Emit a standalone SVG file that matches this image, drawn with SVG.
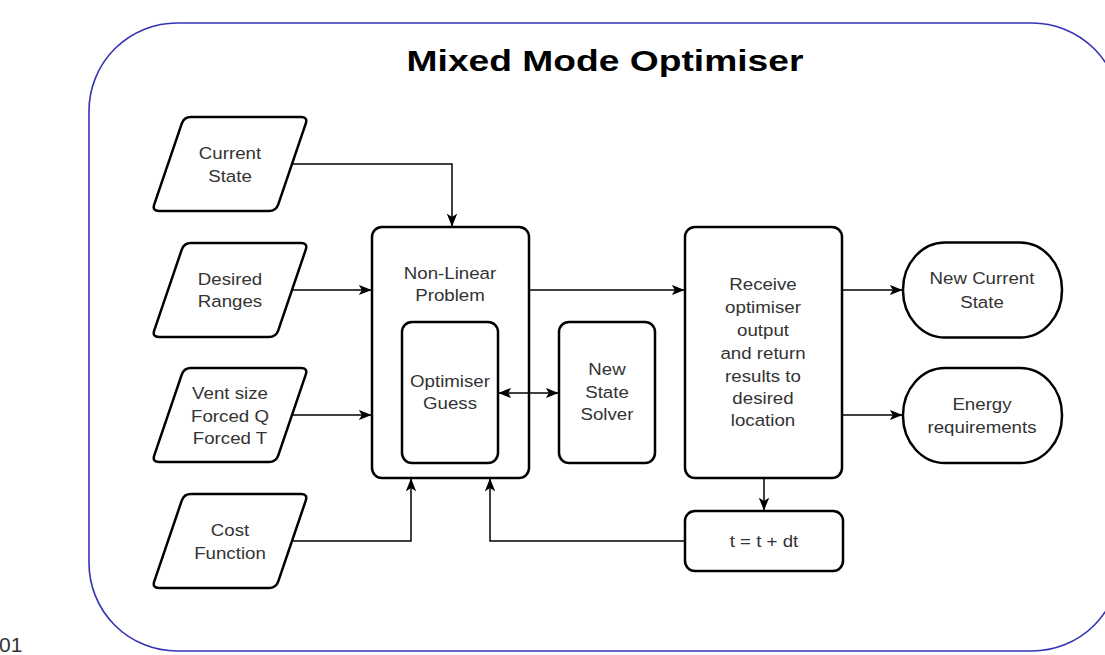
<svg xmlns="http://www.w3.org/2000/svg" width="1105" height="655" viewBox="0 0 1105 655">
<style>
.node{fill:#fff;stroke:#000;stroke-width:2.5}
.lbl{font-family:"Liberation Sans",Arial,sans-serif;font-size:17px;fill:#333;text-anchor:middle}
.title{font-family:"Liberation Sans",Arial,sans-serif;font-size:30px;font-weight:bold;fill:#000;text-anchor:middle}
.conn{fill:none;stroke:#000;stroke-width:1.5}
</style>
<defs>
<path id="para" d="M39,0 L149,0 Q156,0 153.74,6.63 L126.26,87.37 Q124,94 117,94 L7,94 Q0,94 2.26,87.37 L29.74,6.63 Q32,0 39,0 Z"/>
<marker id="arr" viewBox="0 0 10 10" refX="9.5" refY="5" markerWidth="13" markerHeight="13" orient="auto-start-reverse" markerUnits="userSpaceOnUse">
<path d="M0,1 L10,5 L0,9 L2.5,5 Z" fill="#000"/>
</marker>
</defs>
<rect x="0" y="0" width="1105" height="655" fill="#fff"/>
<g id="container">
<rect x="89" y="23" width="1031" height="628" rx="88" ry="88" fill="none" stroke="#3333b3" stroke-width="1.6"/>
<g transform="translate(605 0) scale(1.24 1)"><text class="title" x="0" y="71">Mixed Mode Optimiser</text></g>
</g>
<text x="-1" y="652" font-family="'Liberation Sans',Arial,sans-serif" font-size="21" fill="#333">01</text>

<g id="current-state">
<use href="#para" class="node" transform="translate(152 117)"/>
<g transform="translate(230 0) scale(1.1 1)"><text class="lbl" x="0" y="159">Current</text><text class="lbl" x="0" y="182">State</text></g>
</g>
<g id="desired-ranges">
<use href="#para" class="node" transform="translate(152 243)"/>
<g transform="translate(230 0) scale(1.1 1)"><text class="lbl" x="0" y="285">Desired</text><text class="lbl" x="0" y="307">Ranges</text></g>
</g>
<g id="vent-size">
<use href="#para" class="node" transform="translate(152 368)"/>
<g transform="translate(230 0) scale(1.1 1)"><text class="lbl" x="0" y="399">Vent size</text><text class="lbl" x="0" y="422">Forced Q</text><text class="lbl" x="0" y="444">Forced T</text></g>
</g>
<g id="cost-function">
<use href="#para" class="node" transform="translate(152 494)"/>
<g transform="translate(230 0) scale(1.1 1)"><text class="lbl" x="0" y="536">Cost</text><text class="lbl" x="0" y="559">Function</text></g>
</g>

<g id="non-linear-problem">
<rect class="node" x="372" y="227" width="157" height="251" rx="10"/>
<g transform="translate(450 0) scale(1.1 1)"><text class="lbl" x="0" y="279">Non-Linear</text><text class="lbl" x="0" y="301">Problem</text></g>
</g>
<g id="optimiser-guess">
<rect class="node" x="402" y="322" width="96" height="141" rx="10"/>
<g transform="translate(450 0) scale(1.1 1)"><text class="lbl" x="0" y="387">Optimiser</text><text class="lbl" x="0" y="409">Guess</text></g>
</g>
<g id="new-state-solver">
<rect class="node" x="559" y="322" width="96" height="141" rx="10"/>
<g transform="translate(607 0) scale(1.1 1)"><text class="lbl" x="0" y="375">New</text><text class="lbl" x="0" y="398">State</text><text class="lbl" x="0" y="420">Solver</text></g>
</g>
<g id="receive">
<rect class="node" x="685" y="227" width="157" height="251" rx="10"/>
<g transform="translate(763 0) scale(1.1 1)">
<text class="lbl" x="0" y="290">Receive</text>
<text class="lbl" x="0" y="313">optimiser</text>
<text class="lbl" x="0" y="336">output</text>
<text class="lbl" x="0" y="359">and return</text>
<text class="lbl" x="0" y="382">results to</text>
<text class="lbl" x="0" y="404">desired</text>
<text class="lbl" x="0" y="426">location</text>
</g>
</g>
<g id="new-current-state">
<rect class="node" x="903" y="242.5" width="159" height="95" rx="42" ry="47"/>
<g transform="translate(982 0) scale(1.1 1)"><text class="lbl" x="0" y="284">New Current</text><text class="lbl" x="0" y="308">State</text></g>
</g>
<g id="energy-requirements">
<rect class="node" x="903" y="368" width="159" height="95" rx="42" ry="47"/>
<g transform="translate(982 0) scale(1.1 1)"><text class="lbl" x="0" y="410">Energy</text><text class="lbl" x="0" y="433">requirements</text></g>
</g>
<g id="time-step">
<rect class="node" x="685" y="511" width="158" height="60" rx="10"/>
<g transform="translate(764 0) scale(1.1 1)"><text class="lbl" x="0" y="547">t = t + dt</text></g>
</g>

<g id="connectors">
<path class="conn" d="M292,164 H452 V226" marker-end="url(#arr)"/>
<path class="conn" d="M292,290 H371" marker-end="url(#arr)"/>
<path class="conn" d="M292,415 H371" marker-end="url(#arr)"/>
<path class="conn" d="M292,541 H411 V479" marker-end="url(#arr)"/>
<path class="conn" d="M530,290 H684" marker-end="url(#arr)"/>
<path class="conn" d="M499,393 H558" marker-start="url(#arr)" marker-end="url(#arr)"/>
<path class="conn" d="M843,290 H902" marker-end="url(#arr)"/>
<path class="conn" d="M843,415 H902" marker-end="url(#arr)"/>
<path class="conn" d="M764,479 V510" marker-end="url(#arr)"/>
<path class="conn" d="M684,541 H490 V479" marker-end="url(#arr)"/>
</g>
</svg>
